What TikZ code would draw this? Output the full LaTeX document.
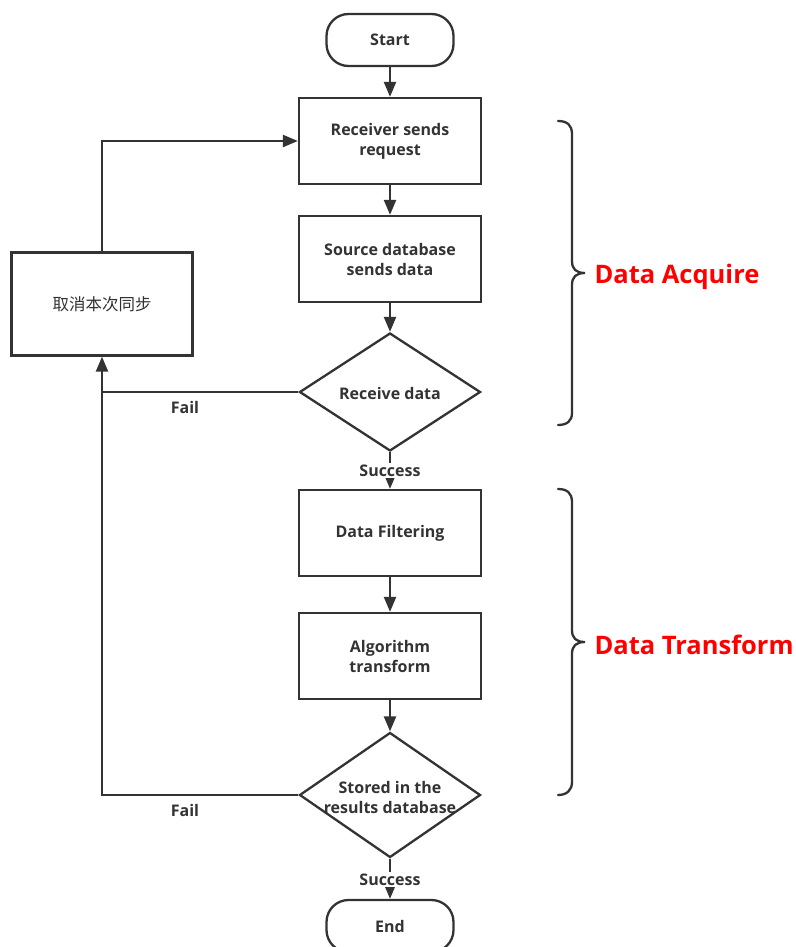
\documentclass[tikz,border=0pt]{standalone}
\usepackage{fontspec}
\setmainfont{Open Sans}
\newfontfamily\cjk{Noto Sans CJK SC}
\usetikzlibrary{shapes.geometric,arrows.meta}
\definecolor{ink}{HTML}{333333}
\definecolor{accent}{HTML}{FF0000}

\begin{document}
\begin{tikzpicture}[x=1pt,y=-1pt,
  every node/.style={text=ink, font=\bfseries\fontsize{16}{20}\selectfont, align=center},
  base/.style={draw=ink, line width=2.3pt},
  proc/.style={base, rectangle, minimum width=182pt, minimum height=86pt, inner sep=0},
  term/.style={base, rectangle, rounded corners=22pt, minimum width=127pt, minimum height=52pt},
  decision/.style={base, diamond, aspect=1.53, minimum width=181pt, minimum height=118pt, inner sep=0},
  flow/.style={draw=ink, line width=2.3pt, -{Triangle[length=15pt,width=12pt]}},
  plain/.style={draw=ink, line width=2.3pt},
  tag/.style={fill=white, inner sep=1.5pt},
  phase/.style={text=accent, font=\bfseries\fontsize{25.5}{30}\selectfont, anchor=west},
  brace/.style={draw=ink, line width=2.3pt, line cap=round}
]
\useasboundingbox[fill=white] (0,0) rectangle (795,947);

% main column
\node[term] (start) at (390,40) {Start};
\node[proc] (req) at (390,141) {Receiver sends\\request};
\node[proc] (send) at (390,259) {Source database\\sends data};
\node[decision] (recv) at (390,392) {};
\node (recvtxt) at (390,393) {Receive data};
\node[proc] (filter) at (390,533) {Data Filtering};
\node[proc] (algo) at (390,656) {Algorithm\\transform};
\node[decision, minimum height=125pt] (store) at (390,795) {};
\node (storetxt) at (390,797) {Stored in the\\results database};
\node[term] (end) at (390,926) {End};

% cancel branch
\node[proc, minimum width=181pt, minimum height=103pt,
      font=\cjk\fontsize{16.5}{20}\selectfont] (cancel) at (102,304) {取消本次同步};

% connectors
\draw[flow] (start) -- (req);
\draw[flow] (req) -- (send);
\draw[flow] (send) -- (recv.north);
\draw[flow] (recv.south) -- node[tag] (ok1) {Success} (filter);
\draw[flow] (filter) -- (algo);
\draw[flow] (algo) -- (store.north);
\draw[flow] (store.south) -- node[tag, pos=0.52] (ok2) {Success} (end);

\draw[flow] (store.west) -| (cancel.south);
\draw[plain] (recv.west) -- (recv.west -| cancel.south);
\draw[flow] (cancel.north) |- (req.west);

\node (fail1) at (185,407) {Fail};
\node (fail2) at (185,810) {Fail};

% phase braces
\draw[brace] (558,121) .. controls (567,121) and (572,125) .. (572,134)
  -- (572,261) .. controls (572,269) and (576,273) .. (585,273)
  .. controls (576,273) and (572,277) .. (572,285)
  -- (572,413) .. controls (572,421) and (567,425) .. (558,425);
\node[phase] (acq) at (591,277) {Data Acquire};

\draw[brace] (558,489) .. controls (567,489) and (572,493) .. (572,502)
  -- (572,630) .. controls (572,638) and (576,642) .. (585,642)
  .. controls (576,642) and (572,646) .. (572,654)
  -- (572,782) .. controls (572,790) and (567,795) .. (558,795);
\node[phase] (trf) at (591,645) {Data Transform};
\end{tikzpicture}
\end{document}
